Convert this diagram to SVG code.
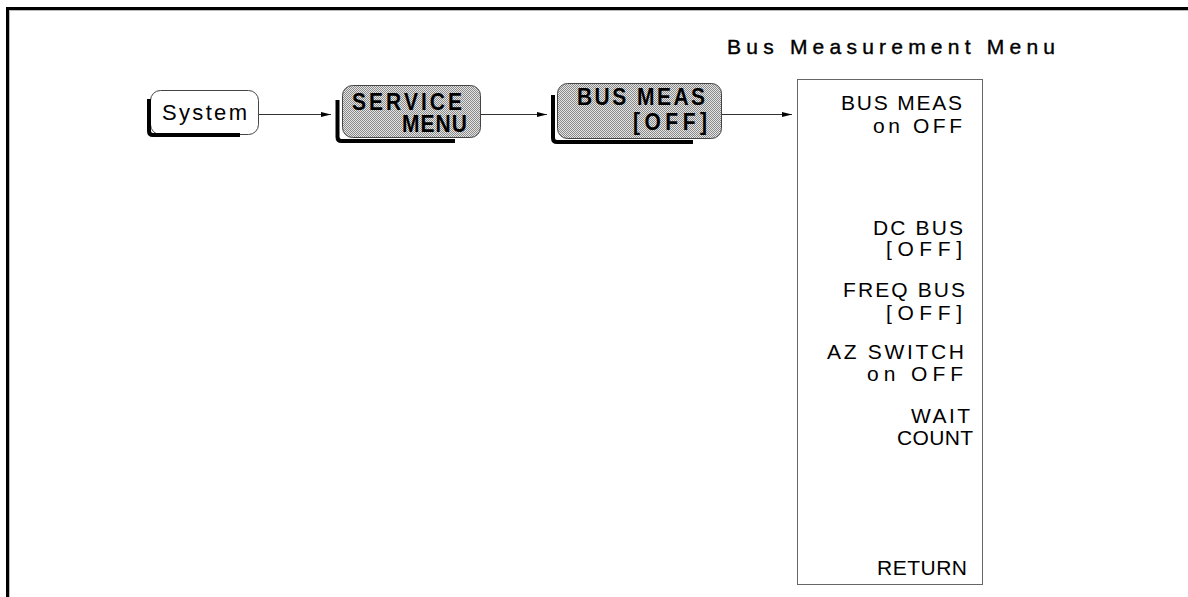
<svg xmlns="http://www.w3.org/2000/svg" width="1188" height="597" viewBox="0 0 1188 597">
  <style>
    .t { font-family: "Liberation Sans", Arial, sans-serif; fill: #000; }
    .menu { font-size: 21px; }
    .key { font-size: 21px; font-weight: bold; }
    .box { stroke: #444; stroke-width: 1; }
    .shadow { fill: none; stroke: #000; stroke-width: 4; }
    .conn { fill: none; stroke: #333; stroke-width: 1; }
  </style>
  <defs>
    <pattern id="dither" width="2" height="2" patternUnits="userSpaceOnUse">
      <rect width="2" height="2" fill="#e4e4e4"/>
      <rect x="0" y="0" width="1" height="1" fill="#8a8a8a"/>
      <rect x="1" y="1" width="1" height="1" fill="#8a8a8a"/>
    </pattern>
    <marker id="arrow" markerUnits="userSpaceOnUse" markerWidth="11" markerHeight="6" refX="10" refY="2.5" orient="auto">
      <path d="M0,0 L10,2.5 L0,5 z" fill="#000"/>
    </marker>
  </defs>

  <rect width="1188" height="597" fill="#fff"/>
  <!-- frame -->
  <rect x="9" y="10" width="1179" height="1" fill="#bbb"/>
  <rect x="9" y="10" width="1" height="587" fill="#bbb"/>
  <rect x="6" y="7" width="1182" height="3" fill="#000"/>
  <rect x="6" y="7" width="3" height="590" fill="#000"/>

  <text class="t" x="727" y="54" font-size="21" stroke="#000" stroke-width="0.4" textLength="328" lengthAdjust="spacing">Bus Measurement Menu</text>

  <g id="connectors">
    <path class="conn" d="M259,114.5 H331" marker-end="url(#arrow)"/>
    <path class="conn" d="M481,114.5 H547" marker-end="url(#arrow)"/>
    <path class="conn" d="M722,114.5 H792" marker-end="url(#arrow)"/>
  </g>

  <g id="node-system">
    <rect class="box" x="150.5" y="90.5" width="108" height="44" rx="10" fill="#fff"/>
    <path class="shadow" d="M149,99 V131 Q149,135 153,135 H240"/>
    <text class="t" x="162" y="120" font-size="22" textLength="85" lengthAdjust="spacing">System</text>
  </g>

  <g id="node-service-menu">
    <rect class="box" x="342.5" y="85.5" width="138" height="52" rx="10" fill="url(#dither)"/>
    <path class="shadow" d="M337.5,100 V137 Q337.5,141 341.5,141 H455"/>
    <text class="t key" transform="translate(352,110) scale(1,1.17)" textLength="110" lengthAdjust="spacing">SERVICE</text>
    <text class="t key" transform="translate(402,132) scale(1,1.17)" textLength="65" lengthAdjust="spacing">MENU</text>
  </g>

  <g id="node-bus-meas">
    <rect class="box" x="557.5" y="83.5" width="164" height="55" rx="10" fill="url(#dither)"/>
    <path class="shadow" d="M553,95 V138 Q553,142 557,142 H693"/>
    <text class="t key" transform="translate(577,105) scale(1,1.15)" textLength="128" lengthAdjust="spacing">BUS MEAS</text>
    <text class="t key" transform="translate(633,130) scale(1,1.15)" textLength="74" lengthAdjust="spacing">[OFF]</text>
  </g>

  <g id="node-menu">
    <rect x="797.5" y="79.5" width="185" height="505" fill="#fff" stroke="#666" stroke-width="1"/>
    <text class="t menu" x="841" y="110" textLength="121" lengthAdjust="spacing">BUS MEAS</text>
    <text class="t menu" x="873" y="133" textLength="89" lengthAdjust="spacing">on OFF</text>
    <text class="t menu" x="873" y="235" textLength="90" lengthAdjust="spacing">DC BUS</text>
    <text class="t menu" x="886" y="256" textLength="76" lengthAdjust="spacing">[OFF]</text>
    <text class="t menu" x="843" y="297" textLength="122" lengthAdjust="spacing">FREQ BUS</text>
    <text class="t menu" x="886" y="320" textLength="76" lengthAdjust="spacing">[OFF]</text>
    <text class="t menu" x="827" y="359" textLength="137" lengthAdjust="spacing">AZ SWITCH</text>
    <text class="t menu" x="867" y="381" textLength="96" lengthAdjust="spacing">on OFF</text>
    <text class="t menu" x="911" y="423" textLength="59" lengthAdjust="spacing">WAIT</text>
    <text class="t menu" x="897" y="445" textLength="76" lengthAdjust="spacing">COUNT</text>
    <text class="t menu" x="877" y="575" textLength="90" lengthAdjust="spacing">RETURN</text>
  </g>
</svg>
